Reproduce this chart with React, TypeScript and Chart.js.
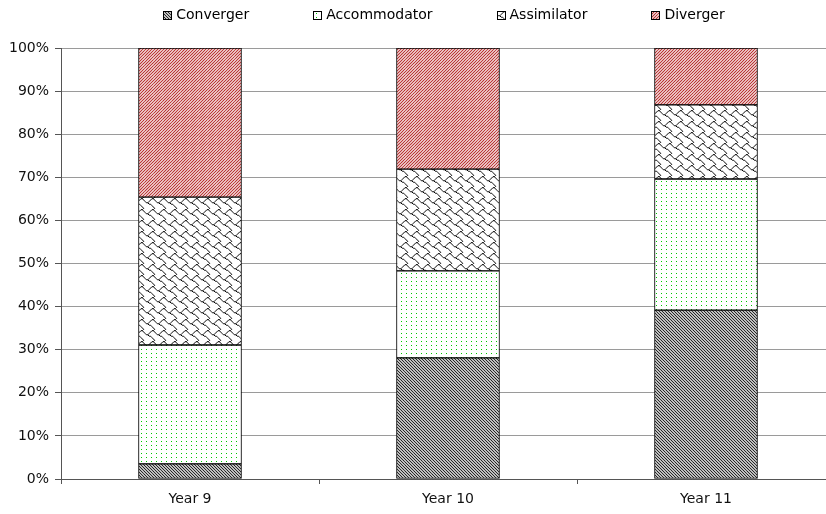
import { useEffect, useRef } from 'react';
import { Chart, registerables } from 'chart.js';

Chart.register(...registerables);

// Learning-style share (%) per school year, stacked bottom to top
const categories = ['Year 9', 'Year 10', 'Year 11'];
const seriesNames = ['Converger', 'Accommodator', 'Assimilator', 'Diverger'];
const converger = [3.5, 28.1, 39.2];
const accommodator = [27.6, 20.2, 30.4];
const assimilator = [34.3, 23.6, 17.2];
const diverger = [34.6, 28.1, 13.2];
const yMin = 0;
const yMax = 100;
const yStep = 10;

const FONT = 'DejaVu Sans, Verdana, sans-serif';

function tileCanvas(w: number, h: number) {
  const tile = document.createElement('canvas');
  tile.width = w;
  tile.height = h;
  const c = tile.getContext('2d')!;
  c.fillStyle = '#ffffff';
  c.fillRect(0, 0, w, h);
  return { tile, c };
}

function toPattern(tile: HTMLCanvasElement): CanvasPattern {
  const ctx = document.createElement('canvas').getContext('2d')!;
  return ctx.createPattern(tile, 'repeat')!;
}

// Diagonal hatch: n lines across a square tile; dir 1 = "\" , -1 = "/"
function hatch(size: number, n: number, color: string, width: number, dir: 1 | -1) {
  const { tile, c } = tileCanvas(size, size);
  c.strokeStyle = color;
  c.lineWidth = width;
  const step = size / n;
  for (let k = -n - 1; k <= 2 * n + 1; k++) {
    const x0 = k * step;
    c.beginPath();
    if (dir === 1) {
      c.moveTo(x0 - size, -size);
      c.lineTo(x0 + 2 * size, 2 * size);
    } else {
      c.moveTo(x0 + size, -size);
      c.lineTo(x0 - 2 * size, 2 * size);
    }
    c.stroke();
  }
  return toPattern(tile);
}

// Sparse dot grid
function dots(w: number, h: number, color: string) {
  const { tile, c } = tileCanvas(w, h);
  c.fillStyle = color;
  c.fillRect(1, 1, 1, 1);
  return toPattern(tile);
}

// Shingle (fish-scale) motif traced on an 8-unit cell, drawn as thin strokes
function shingle(size: number, width: number) {
  const paths: number[][][] = [
    [[0.5, 1.5], [1.5, 2.5], [2.5, 3.5], [3.5, 3.5], [4.5, 4.5], [5.5, 4.5], [6.5, 5.5], [7.5, 6.5], [8.5, 7.5], [7.5, 8.5]],
    [[3.5, 3.5], [4.5, 2.5], [5.5, 1.5], [6.5, 0.5], [7.5, 0.5], [8.5, 1.5]],
  ];
  const k = size / 8;
  const { tile, c } = tileCanvas(size, size);
  c.strokeStyle = '#000';
  c.lineWidth = width;
  c.lineJoin = 'round';
  for (let i = -1; i <= 1; i++)
    for (let j = -1; j <= 1; j++) {
      paths.forEach((p) => {
        c.beginPath();
        p.forEach(([x, y], n) => {
          const px = (x + i * 8) * k;
          const py = (y + j * 8) * k;
          if (n === 0) c.moveTo(px, py);
          else c.lineTo(px, py);
        });
        c.stroke();
      });
    }
  return toPattern(tile);
}

function makeFills(): CanvasPattern[] {
  return [
    hatch(9, 3, '#1a1a1a', 1.1, 1),
    dots(5, 4, '#00c800'),
    shingle(11, 1),
    hatch(9, 3, '#b83030', 1.2, -1),
  ];
}

const legendPlugin = {
  id: 'patternLegend',
  afterDraw(chart: Chart) {
    const ctx = chart.ctx;
    const area = chart.chartArea;
    const datasets = chart.data.datasets;
    const box = 8;
    const boxGap = 5;
    const itemGap = 64;
    ctx.save();
    ctx.font = `14px ${FONT}`;
    ctx.textBaseline = 'middle';
    const widths = datasets.map((d) => box + boxGap + ctx.measureText(String(d.label)).width);
    const total = widths.reduce((a, b) => a + b, 0) + itemGap * (datasets.length - 1);
    let x = (area.left + area.right) / 2 - 4 - total / 2;
    const cy = 15;
    datasets.forEach((d, i) => {
      const bx = Math.round(x) + 0.5;
      const by = Math.round(cy - box / 2) + 0.5;
      ctx.fillStyle = d.backgroundColor as any;
      ctx.fillRect(bx, by, box, box);
      ctx.strokeStyle = '#000';
      ctx.lineWidth = 1;
      ctx.strokeRect(bx, by, box, box);
      ctx.fillStyle = '#000';
      ctx.textAlign = 'left';
      ctx.fillText(String(d.label), x + box + boxGap, cy);
      x += widths[i] + itemGap;
    });
    ctx.restore();
  },
};

export default function App() {
  const canvasRef = useRef<HTMLCanvasElement | null>(null);

  useEffect(() => {
    if (!canvasRef.current) return;
    const fills = makeFills();
    const values = [converger, accommodator, assimilator, diverger];
    const chart = new Chart(canvasRef.current, {
      type: 'bar',
      data: {
        labels: categories,
        datasets: seriesNames.map((name, i) => ({
          label: name,
          data: values[i],
          backgroundColor: fills[i],
          borderColor: '#000',
          borderWidth: 1,
          borderSkipped: false,
          barThickness: 103,
        })),
      },
      options: {
        responsive: false,
        animation: false,
        devicePixelRatio: 1,
        layout: { padding: { top: 48, right: 15, left: 0, bottom: 0 } },
        plugins: {
          legend: { display: false },
          tooltip: { enabled: false },
        },
        scales: {
          x: {
            stacked: true,
            afterFit: (s: any) => {
              s.height = 35;
            },
            grid: {
              offset: true,
              drawOnChartArea: false,
              tickLength: 5,
              color: '#555',
            },
            border: { color: '#555', width: 1 },
            ticks: {
              color: '#111',
              padding: 7,
              font: { family: FONT, size: 14 },
            },
          },
          y: {
            stacked: true,
            min: yMin,
            max: yMax,
            afterFit: (s: any) => {
              s.width = 61;
            },
            grid: {
              color: '#9a9a9a',
              tickColor: '#555',
              tickLength: 6,
            },
            border: { color: '#555', width: 1 },
            ticks: {
              stepSize: yStep,
              color: '#111',
              padding: 6,
              font: { family: FONT, size: 14 },
              callback: (v: any) => `${v}%`,
            },
          },
        },
      },
      plugins: [legendPlugin],
    });
    return () => chart.destroy();
  }, []);

  return (
    <div
      style={{
        position: 'absolute',
        left: 0,
        top: 0,
        width: 826,
        height: 514,
        overflow: 'hidden',
        background: '#fff',
      }}
    >
      <canvas ref={canvasRef} width={850} height={514} style={{ display: 'block' }} />
    </div>
  );
}
